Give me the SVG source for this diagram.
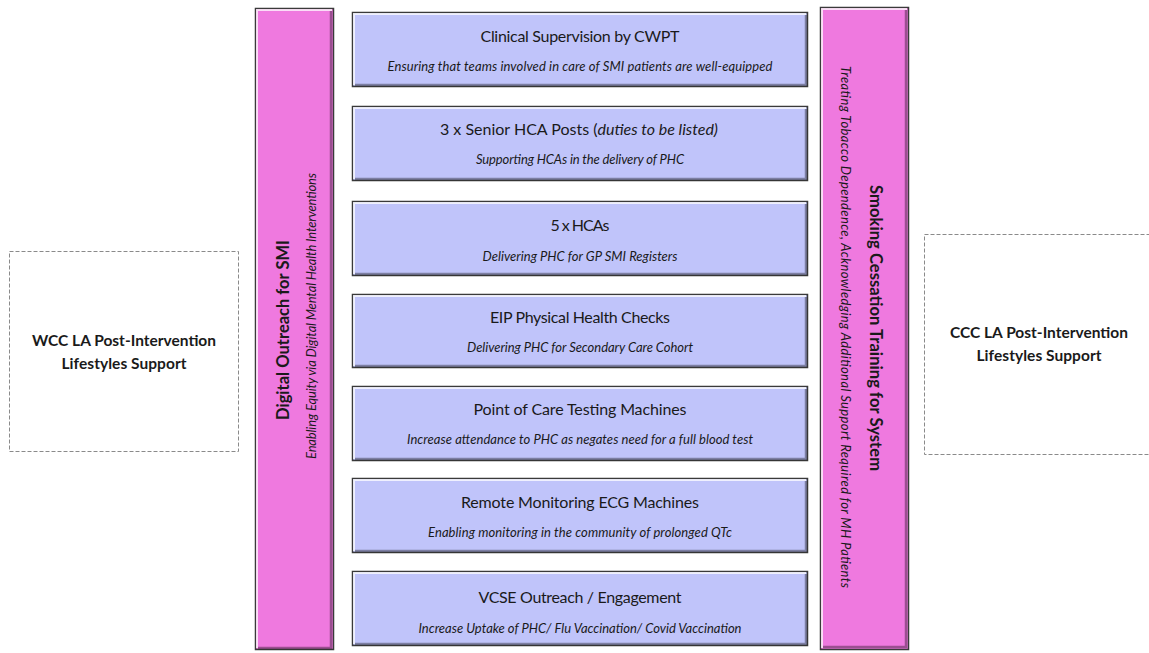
<svg xmlns="http://www.w3.org/2000/svg" width="1149" height="653" viewBox="0 0 1149 653">
<style>
.box{fill:#c0c4fa;stroke:#3a3a3a;stroke-width:1.5}
.pink{fill:#ef79df;stroke:#3a3a3a;stroke-width:1.5}
.hl{fill:none;stroke:#ffffff;stroke-opacity:0.75;stroke-width:2}
.sh{fill:none;stroke:#000;stroke-opacity:0.35;stroke-width:2.5}
.dash{fill:#fff;stroke:#8a8a8a;stroke-width:1;stroke-dasharray:4 2}
.t{font-family:Lato,"Open Sans",sans-serif;font-size:16px;fill:#1a1a1a;text-anchor:middle}
.s{font-family:Lato,"Open Sans",sans-serif;font-size:13px;font-style:italic;fill:#1a1a1a;text-anchor:middle}
.b{font-family:Lato,"Open Sans",sans-serif;font-size:15.5px;font-weight:bold;fill:#1a1a1a;text-anchor:middle}
</style>
<rect width="1149" height="653" fill="#fff"/>
<g id="wcc">
<rect class="dash" x="9.5" y="251.5" width="229" height="200"/>
<text class="b" x="124" y="346" textLength="184">WCC LA Post-Intervention</text>
<text class="b" x="124" y="369" textLength="125">Lifestyles Support</text>
</g>
<g id="ccc">
<rect class="dash" x="924.5" y="234.5" width="230" height="220"/>
<text class="b" x="1039" y="338" textLength="178">CCC LA Post-Intervention</text>
<text class="b" x="1039" y="361" textLength="125">Lifestyles Support</text>
</g>
<g id="digital">
<rect class="pink" x="255.5" y="8.5" width="78" height="641"/>
<polyline class="hl" points="257,648 257,10 332,10"/>
<polyline class="sh" points="258,648 331,648 331,11"/>
<text class="b" style="font-size:16.5px" transform="translate(289,330) rotate(-90)" textLength="180">Digital Outreach for SMI</text>
<text class="s" transform="translate(316,316) rotate(-90)" textLength="286">Enabling Equity via Digital Mental Health Interventions</text>
</g>
<g id="smoking">
<rect class="pink" x="820.5" y="7.5" width="88" height="642"/>
<polyline class="hl" points="822,648 822,9 907,9"/>
<polyline class="sh" points="823,647 906,647 906,10"/>
<text class="b" style="font-size:16.5px" transform="translate(870,328) rotate(90)" textLength="286">Smoking Cessation Training for System</text>
<text class="s" transform="translate(841,327) rotate(90)" textLength="522">Treating Tobacco Dependence, Acknowledging Additional Support Required for MH Patients</text>
</g>
<g id="n1">
<rect class="box" x="352.5" y="12.5" width="455" height="74"/>
<polyline class="hl" points="354,85 354,14 806,14"/>
<polyline class="sh" points="355,85 806,85 806,15"/>
<text class="t" x="580" y="42" textLength="199">Clinical Supervision by CWPT</text>
<text class="s" x="580" y="71" textLength="385">Ensuring that teams involved in care of SMI patients are well-equipped</text>
</g>
<g id="n2">
<rect class="box" x="352.5" y="106.5" width="455" height="74"/>
<polyline class="hl" points="354,179 354,108 806,108"/>
<polyline class="sh" points="355,179 806,179 806,109"/>
<text class="t" x="579" y="135" textLength="278">3 x Senior HCA Posts (<tspan font-style="italic">duties to be listed)</tspan></text>
<text class="s" x="580" y="164" textLength="208">Supporting HCAs in the delivery of PHC</text>
</g>
<g id="n3">
<rect class="box" x="352.5" y="201.5" width="455" height="74"/>
<polyline class="hl" points="354,274 354,203 806,203"/>
<polyline class="sh" points="355,274 806,274 806,204"/>
<text class="t" x="580" y="231" textLength="59">5 x HCAs</text>
<text class="s" x="580" y="261" textLength="195">Delivering PHC for GP SMI Registers</text>
</g>
<g id="n4">
<rect class="box" x="352.5" y="294.5" width="455" height="73"/>
<polyline class="hl" points="354,366 354,296 806,296"/>
<polyline class="sh" points="355,366 806,366 806,297"/>
<text class="t" x="580" y="323" textLength="180">EIP Physical Health Checks</text>
<text class="s" x="580" y="352" textLength="226">Delivering PHC for Secondary Care Cohort</text>
</g>
<g id="n5">
<rect class="box" x="352.5" y="386.5" width="455" height="74"/>
<polyline class="hl" points="354,459 354,388 806,388"/>
<polyline class="sh" points="355,459 806,459 806,389"/>
<text class="t" x="580" y="415" textLength="213">Point of Care Testing Machines</text>
<text class="s" x="580" y="444" textLength="346">Increase attendance to PHC as negates need for a full blood test</text>
</g>
<g id="n6">
<rect class="box" x="352.5" y="478.5" width="455" height="74"/>
<polyline class="hl" points="354,551 354,480 806,480"/>
<polyline class="sh" points="355,551 806,551 806,481"/>
<text class="t" x="580" y="508" textLength="238">Remote Monitoring ECG Machines</text>
<text class="s" x="580" y="537" textLength="304">Enabling monitoring in the community of prolonged QTc</text>
</g>
<g id="n7">
<rect class="box" x="352.5" y="571.5" width="455" height="74"/>
<polyline class="hl" points="354,644 354,573 806,573"/>
<polyline class="sh" points="355,644 806,644 806,574"/>
<text class="t" x="580" y="603" textLength="203">VCSE Outreach / Engagement</text>
<text class="s" x="580" y="633" textLength="323">Increase Uptake of PHC/ Flu Vaccination/ Covid Vaccination</text>
</g>
<g id="connectors"></g>
</svg>
